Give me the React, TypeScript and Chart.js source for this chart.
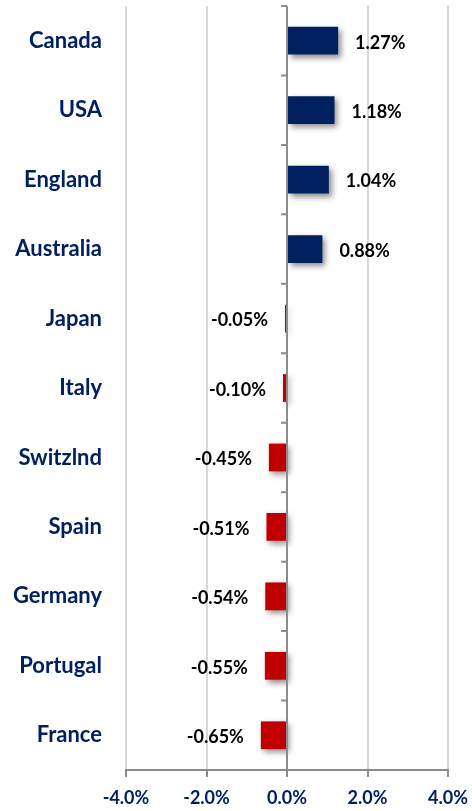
import React, { useEffect, useRef } from "react";
import { Chart, registerables } from "chart.js";

Chart.register(...registerables);

const categories = ["Canada", "USA", "England", "Australia", "Japan", "Italy", "Switzlnd", "Spain", "Germany", "Portugal", "France"];
const values = [1.27, 1.18, 1.04, 0.88, -0.05, -0.1, -0.45, -0.51, -0.54, -0.55, -0.65];
const xTicks = [-4, -2, 0, 2, 4];

const NAVY = "#002060";
const RED = "#C00000";
const FONT = "Lato, 'Open Sans', sans-serif";

export default function App() {
  const ref = useRef<HTMLCanvasElement | null>(null);
  useEffect(() => {
    if (!ref.current) return;
    const shadowPlugin = {
      id: "barShadow",
      beforeDatasetDraw(chart: any) {
        const ctx = chart.ctx;
        ctx.save();
        ctx.shadowColor = "rgba(0,0,0,0.45)";
        ctx.shadowBlur = 6;
        ctx.shadowOffsetX = 3;
        ctx.shadowOffsetY = 3;
      },
      afterDatasetDraw(chart: any) {
        chart.ctx.restore();
      },
    };
    const axisPlugin = {
      id: "zeroAxis",
      afterDatasetsDraw(chart: any) {
        const ctx = chart.ctx;
        const x0 = chart.scales.x.getPixelForValue(0);
        const { top, bottom } = chart.chartArea;
        const n = categories.length;
        ctx.save();
        ctx.strokeStyle = "#8c8c8c";
        ctx.lineWidth = 2;
        ctx.beginPath();
        ctx.moveTo(x0, top);
        ctx.lineTo(x0, bottom);
        for (let k = 0; k < n; k++) {
          const y = top + ((bottom - top) * k) / n;
          ctx.moveTo(x0 - 6, y);
          ctx.lineTo(x0, y);
        }
        ctx.stroke();
        ctx.restore();
      },
    };
    const labelPlugin = {
      id: "valueLabels",
      afterDatasetsDraw(chart: any) {
        const ctx = chart.ctx;
        const meta = chart.getDatasetMeta(0);
        ctx.save();
        ctx.font = `bold 18px ${FONT}`;
        ctx.fillStyle = "#000";
        ctx.textBaseline = "middle";
        meta.data.forEach((el: any, i: number) => {
          const v = values[i];
          const txt = v.toFixed(2) + "%";
          if (v >= 0) {
            ctx.textAlign = "left";
            ctx.fillText(txt, el.x + 17, el.y + 2);
          } else {
            ctx.textAlign = "right";
            ctx.fillText(txt, el.x - 17, el.y + 2);
          }
        });
        ctx.restore();
      },
    };
    const chart = new Chart(ref.current, {
      type: "bar",
      data: {
        labels: categories,
        datasets: [
          {
            data: values,
            backgroundColor: values.map((v) => (v >= 0 ? NAVY : RED)),
            categoryPercentage: 1,
            barPercentage: 0.4,
          },
        ],
      },
      options: {
        indexAxis: "y",
        animation: false,
        responsive: false,
        maintainAspectRatio: false,
        layout: { padding: { top: 6, right: 24, left: 0, bottom: 0 } },
        plugins: { legend: { display: false }, tooltip: { enabled: false } },
        scales: {
          x: {
            min: -4,
            max: 4,
            afterBuildTicks(scale: any) {
              scale.ticks = xTicks.map((v) => ({ value: v }));
            },
            afterFit(scale: any) {
              scale.height = 41;
              scale.paddingLeft = 0;
              scale.paddingRight = 0;
            },
            grid: {
              color: "#d9d9d9",
              lineWidth: 2,
              drawTicks: true,
              tickLength: 7,
              tickColor: "#8c8c8c",
            },
            border: { display: true, color: "#8c8c8c", width: 2 },
            ticks: {
              color: NAVY,
              font: { family: FONT, weight: "bold", size: 18 },
              padding: 10,
              callback: (v: any) => Number(v).toFixed(1) + "%",
            },
          },
          y: {
            afterFit(scale: any) {
              scale.width = 126;
              scale.paddingTop = 0;
              scale.paddingBottom = 0;
            },
            grid: { display: false },
            border: { display: false },
            ticks: {
              color: NAVY,
              font: { family: FONT, weight: "bold", size: 22 },
              padding: 16,
            },
          },
        },
      },
      plugins: [shadowPlugin, axisPlugin, labelPlugin],
    });
    return () => chart.destroy();
  }, []);
  return (
    <div style={{ position: "fixed", left: 0, top: 0, width: 472, height: 811, background: "#fff" }}>
      <canvas ref={ref} width={472} height={811} style={{ width: 472, height: 811 }} />
    </div>
  );
}
